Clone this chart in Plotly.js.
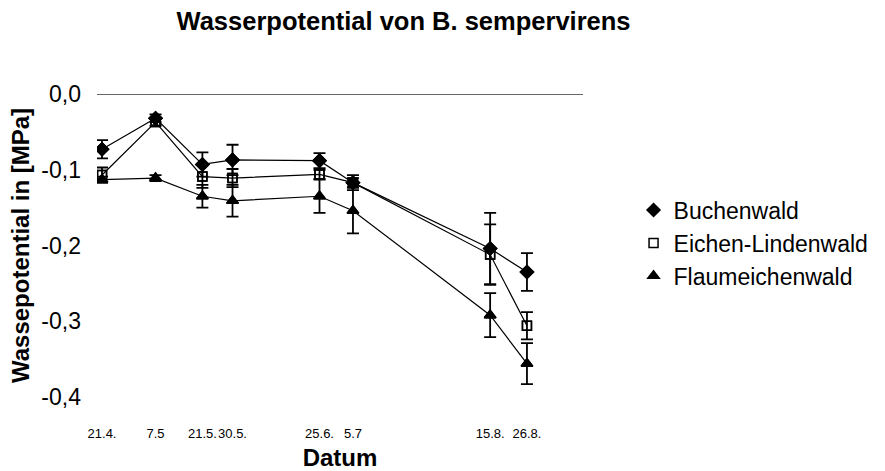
<!DOCTYPE html>
<html>
<head>
<meta charset="utf-8">
<script src="https://cdn.plot.ly/plotly-3.0.1.min.js"></script>
<style>html,body{margin:0;padding:0;background:#fff;}#chart{width:885px;height:471px;}</style>
</head>
<body>
<div id="chart"></div>
<script>
var dates = ['2000-04-21','2000-05-07','2000-05-21','2000-05-30','2000-06-25','2000-07-05','2000-08-15','2000-08-26'];
var tickLabels = ['21.4.','7.5','21.5.','30.5.','25.6.','5.7','15.8.','26.8.'];

var buchenwald = [-0.073, -0.032, -0.093, -0.087, -0.088, -0.117, -0.204, -0.235];
var buchenwaldErr = [0.012, 0.005, 0.016, 0.020, 0.010, 0.006, 0.047, 0.025];

var eichenLinden = [-0.107, -0.037, -0.109, -0.111, -0.106, -0.117, -0.212, -0.306];
var eichenLindenErr = [0.010, 0.005, 0.015, 0.012, 0.006, 0.010, 0.040, 0.018];

var flaumeichen = [-0.113, -0.111, -0.135, -0.141, -0.135, -0.154, -0.292, -0.356];
var flaumeichenErr = [0.004, 0.004, 0.015, 0.021, 0.022, 0.030, 0.029, 0.027];

var names = ['Buchenwald', 'Eichen-Lindenwald', 'Flaumeichenwald'];
var ys = [buchenwald, eichenLinden, flaumeichen];
var errs = [buchenwaldErr, eichenLindenErr, flaumeichenErr];
var symbols = ['diamond', 'square-open', 'triangle-up'];
var sizes = [10, 9, 10];

var data = [];
// lines with error bars (not in legend)
for (var i = 0; i < 3; i++) {
  data.push({
    type: 'scatter', mode: 'lines+markers', name: names[i], showlegend: false,
    x: dates, y: ys[i],
    line: {color: '#000', width: 1.2},
    marker: {symbol: symbols[i], size: sizes[i], color: '#000', line: {color: '#000', width: 1.5}},
    error_y: {type: 'data', array: errs[i], visible: true, color: '#000', thickness: 1.8, width: 6}
  });
}
// marker-only copies for the legend (same points, drawn on top)
for (var j = 0; j < 3; j++) {
  data.push({
    type: 'scatter', mode: 'markers', name: names[j], showlegend: true,
    x: dates, y: ys[j],
    marker: {symbol: symbols[j], size: sizes[j], color: '#000', line: {color: '#000', width: 1.5}}
  });
}

var layout = {
  width: 885, height: 471,
  margin: {l: 97, r: 302, t: 94, b: 74},
  paper_bgcolor: '#fff', plot_bgcolor: '#fff',
  font: {family: 'Liberation Sans, Arial, sans-serif', color: '#000'},
  title: {
    text: '<b>Wasserpotential von B. sempervirens</b>',
    font: {size: 25.5, color: '#000'},
    x: 0.456, xanchor: 'center', y: 0.955, yanchor: 'middle'
  },
  xaxis: {
    type: 'date',
    range: ['2000-04-19 12:00', '2000-09-11 18:00'],
    tickvals: dates, ticktext: tickLabels, tickangle: 0,
    showgrid: false, zeroline: false, showline: false, ticks: '',
    tickfont: {size: 13},
    ticklabelstandoff: 27,
    title: {text: '<b>Datum</b>', font: {size: 24}, standoff: 12}
  },
  yaxis: {
    range: [-0.4, 0],
    tickvals: [0, -0.1, -0.2, -0.3, -0.4],
    ticktext: ['0,0', '-0,1', '-0,2', '-0,3', '-0,4'],
    showgrid: false, showline: false, ticks: '',
    zeroline: true, zerolinecolor: '#666', zerolinewidth: 1,
    tickfont: {size: 23},
    ticklabelstandoff: 15,
    title: {text: '<b>Wassepotential in [MPa]</b>', font: {size: 24}, standoff: 4}
  },
  legend: {
    x: 1.104, xanchor: 'left', y: 0.508, yanchor: 'middle',
    font: {size: 23}, bgcolor: 'rgba(0,0,0,0)', itemwidth: 30
  },
  showlegend: true
};

Plotly.newPlot('chart', data, layout, {staticPlot: true, displayModeBar: false});
</script>
</body>
</html>
